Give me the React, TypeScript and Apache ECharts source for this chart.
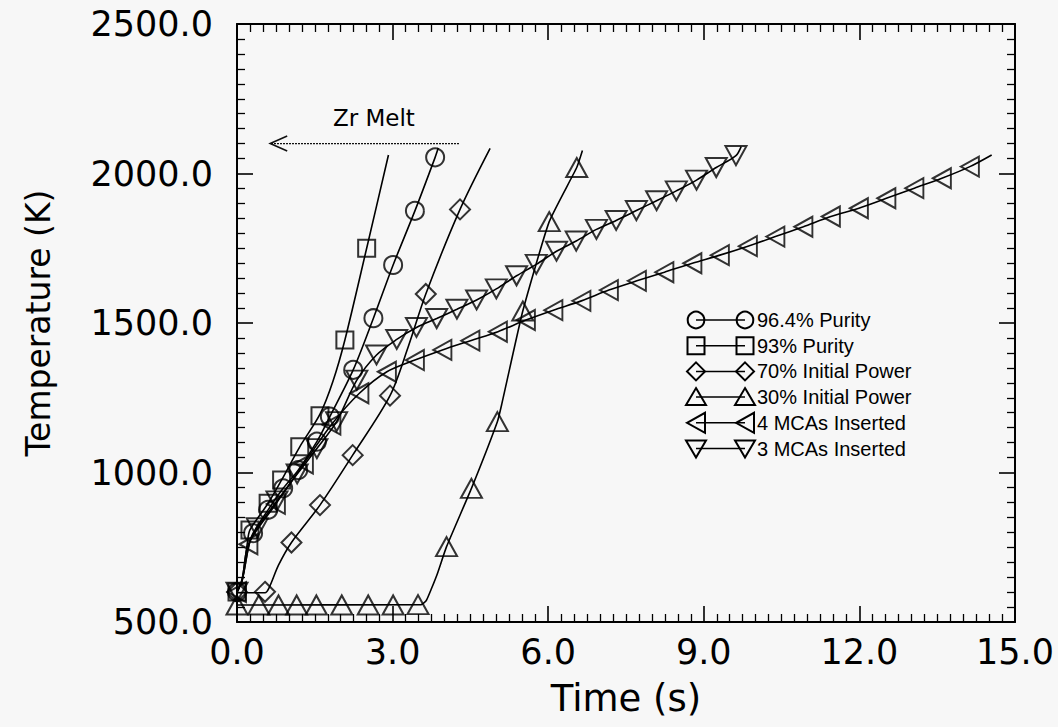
import React, { useEffect, useRef } from "react";
import * as echarts from "echarts";

type P = [number, number];

// ---- Data (time s, temperature K) ----
const purity964Markers: P[] = [[0, 600], [0.31, 797], [0.6, 875], [0.89, 947], [1.18, 1008], [1.54, 1103], [1.79, 1187], [2.24, 1343], [2.63, 1516], [3.01, 1694], [3.43, 1875], [3.82, 2054]];
const purity964Line: P[] = [[0, 600], [0.1, 640], [0.22, 750], [0.31, 797], [0.6, 875], [0.89, 947], [1.18, 1008], [1.54, 1103], [1.79, 1187], [2.24, 1343], [2.63, 1516], [3.01, 1694], [3.43, 1875], [3.82, 2054], [3.88, 2085]];

const purity93Markers: P[] = [[0, 600], [0.25, 808], [0.6, 897], [0.86, 975], [1.21, 1086], [1.6, 1190], [2.08, 1443], [2.5, 1750]];
const purity93Line: P[] = [[0, 600], [0.1, 645], [0.2, 765], [0.25, 808], [0.6, 897], [0.86, 975], [1.21, 1086], [1.6, 1195], [1.85, 1305], [2.08, 1443], [2.5, 1750], [2.92, 2062]];

const power70Markers: P[] = [[0, 600], [0.54, 601], [1.05, 766], [1.6, 891], [2.23, 1058], [2.95, 1257], [3.64, 1597], [4.3, 1880]];
const power70Line: P[] = [[0, 598], [0.54, 598], [0.62, 615], [0.8, 690], [1.05, 766], [1.6, 891], [2.23, 1058], [2.95, 1257], [3.3, 1420], [3.64, 1597], [4.3, 1880], [4.88, 2084]];

const power30Markers: P[] = [[0, 557], [0.42, 557], [0.8, 557], [1.15, 557], [1.53, 557], [2.02, 557], [2.53, 557], [3.01, 557], [3.49, 558], [4.04, 752], [4.52, 947], [5.02, 1170], [5.51, 1540], [6.02, 1839], [6.55, 2020]];
const power30Line: P[] = [[0, 557], [3.55, 558], [3.65, 572], [3.75, 612], [3.87, 665], [4.04, 752], [4.52, 947], [5.02, 1170], [5.1, 1225], [5.51, 1540], [6.02, 1839], [6.55, 2020], [6.66, 2077]];

const mca4Markers: P[] = [[0, 600], [0.22, 760], [0.75, 895], [1.29, 1030], [1.82, 1160], [2.36, 1265], [2.89, 1337], [3.43, 1376], [3.96, 1410], [4.5, 1441], [5.03, 1471], [5.57, 1510], [6.1, 1543], [6.64, 1574], [7.17, 1610], [7.71, 1641], [8.24, 1670], [8.78, 1700], [9.31, 1727], [9.85, 1757], [10.38, 1789], [10.92, 1822], [11.45, 1856], [11.99, 1884], [12.52, 1917], [13.06, 1951], [13.59, 1984], [14.13, 2023]];
const mca4Line: P[] = [[0, 600], [0.1, 640], [0.22, 760], [0.75, 895], [1.29, 1030], [1.82, 1160], [2.36, 1265], [2.89, 1337], [3.43, 1376], [3.96, 1410], [4.5, 1441], [5.03, 1471], [5.57, 1510], [6.1, 1543], [6.64, 1574], [7.17, 1610], [7.71, 1641], [8.24, 1670], [8.78, 1700], [9.31, 1727], [9.85, 1757], [10.38, 1789], [10.92, 1822], [11.45, 1856], [11.99, 1884], [12.52, 1917], [13.06, 1951], [13.59, 1984], [14.13, 2023], [14.55, 2062]];

const mca3Markers: P[] = [[0, 600], [0.39, 815], [0.77, 905], [1.16, 995], [1.54, 1080], [1.92, 1170], [2.31, 1309], [2.69, 1393], [3.08, 1445], [3.46, 1485], [3.85, 1515], [4.24, 1546], [4.62, 1577], [5.0, 1614], [5.39, 1658], [5.77, 1696], [6.16, 1740], [6.54, 1774], [6.93, 1813], [7.31, 1843], [7.7, 1876], [8.09, 1909], [8.47, 1942], [8.86, 1978], [9.24, 2020], [9.62, 2060]];
const mca3Line: P[] = [[0, 600], [0.1, 640], [0.25, 770], [0.39, 815], [0.77, 905], [1.16, 995], [1.54, 1080], [1.92, 1170], [2.31, 1309], [2.69, 1393], [3.08, 1445], [3.46, 1485], [3.85, 1515], [4.24, 1546], [4.62, 1577], [5.0, 1614], [5.39, 1658], [5.77, 1696], [6.16, 1740], [6.54, 1774], [6.93, 1813], [7.31, 1843], [7.7, 1876], [8.09, 1909], [8.47, 1942], [8.86, 1978], [9.24, 2020], [9.62, 2060], [9.72, 2090]];

const seriesNames = ["96.4% Purity", "93% Purity", "70% Initial Power", "30% Initial Power", "4 MCAs Inserted", "3 MCAs Inserted"];

// Zr melt annotation (data coords)
const zrArrowFrom: P = [4.28, 2100];
const zrArrowTo: P = [0.64, 2100];
const zrLabelAt: P = [2.64, 2186];
const zrLabel = "Zr Melt";

const X_MIN = 0, X_MAX = 15, X_INT = 3;
const Y_MIN = 500, Y_MAX = 2500, Y_INT = 500;

const SYM = {
  circle: "circle",
  square: "rect",
  diamond: "diamond",
  up: "path://M5,0L10,9L0,9Z",
  left: "path://M0,5L9,0L9,10Z",
  down: "path://M0,0L10,0L5,9Z",
};

export default function App() {
  const ref = useRef<HTMLDivElement>(null);
  useEffect(() => {
    document.body.style.margin = "0";
    const chart = echarts.init(ref.current!, undefined, { renderer: "svg" });
    const black = "#000";
    const tickFont = { fontSize: 35, fontFamily: "DejaVu Sans", color: black };
    const axisBase = (isX: boolean, main: boolean) => ({
      type: "value",
      min: isX ? X_MIN : Y_MIN,
      max: isX ? X_MAX : Y_MAX,
      interval: isX ? X_INT : Y_INT,
      axisLine: { show: true, onZero: false, lineStyle: { color: black, width: 2 } },
      axisTick: { show: true, inside: true, length: 16, lineStyle: { color: black, width: 1.6 } },
      minorTick: { show: true, splitNumber: isX ? 12 : 10, length: 8, lineStyle: { color: black, width: 1.3 } },
      splitLine: { show: false },
      minorSplitLine: { show: false },
      axisLabel: main
        ? { show: true, ...tickFont, margin: isX ? 12 : 24, formatter: (v: number) => v.toFixed(1) }
        : { show: false },
    });

    const lineS = (data: P[], smooth: number | boolean) => ({
      type: "line",
      data,
      showSymbol: false,
      symbol: "none",
      smooth,
      lineStyle: { color: black, width: 1.6 },
      silent: true,
      z: 2,
    });
    const markS = (name: string, data: P[], symbol: string, size: number | number[]) => ({
      type: "scatter",
      name,
      data,
      symbol,
      symbolSize: size,
      itemStyle: { color: "rgba(0,0,0,0)", borderColor: black, borderWidth: 2 },
      silent: true,
      z: 3,
    });

    chart.setOption({
      animation: false,
      backgroundColor: "#f7f7f7",
      grid: { left: 237, right: 43, top: 24, bottom: 105, containLabel: false },
      xAxis: [
        {
          ...axisBase(true, true),
          position: "bottom",
          name: "Time (s)",
          nameLocation: "middle",
          nameGap: 58,
          nameTextStyle: { fontSize: 37, fontFamily: "DejaVu Sans", color: black },
        },
        { ...axisBase(true, false), position: "top" },
      ],
      yAxis: [
        {
          ...axisBase(false, true),
          position: "left",
          name: "Temperature (K)",
          nameLocation: "middle",
          nameGap: 182,
          nameRotate: 90,
          nameTextStyle: { fontSize: 33, fontFamily: "DejaVu Sans", color: black },
        },
        { ...axisBase(false, false), position: "right" },
      ],
      series: [
        lineS(purity964Line, 0.3),
        lineS(purity93Line, 0.3),
        lineS(power70Line, 0.3),
        lineS(power30Line, 0.15),
        lineS(mca4Line, 0.3),
        lineS(mca3Line, 0.3),
        markS(seriesNames[0], purity964Markers, SYM.circle, 18),
        markS(seriesNames[1], purity93Markers, SYM.square, 17),
        markS(seriesNames[2], power70Markers, SYM.diamond, [20, 20]),
        markS(seriesNames[3], power30Markers, SYM.up, [21, 19]),
        markS(seriesNames[4], mca4Markers, SYM.left, [18, 20]),
        markS(seriesNames[5], mca3Markers, SYM.down, [21, 19]),
      ],
    });

    // annotation + legend
    const from = chart.convertToPixel({ gridIndex: 0 }, zrArrowFrom) as number[];
    const to = chart.convertToPixel({ gridIndex: 0 }, zrArrowTo) as number[];
    const lab = chart.convertToPixel({ gridIndex: 0 }, zrLabelAt) as number[];

    const stroke = { stroke: black, lineWidth: 2, fill: "none" };
    const symbolShape = (kind: string, cx: number, cy: number): any => {
      if (kind === "circle") return { type: "circle", shape: { cx, cy, r: 8.3 }, style: stroke };
      if (kind === "square") return { type: "rect", shape: { x: cx - 8.5, y: cy - 8.5, width: 17, height: 17 }, style: stroke };
      let pts: number[][] = [];
      if (kind === "diamond") pts = [[cx, cy - 9], [cx + 9, cy], [cx, cy + 9], [cx - 9, cy]];
      if (kind === "up") pts = [[cx, cy - 9], [cx + 10, cy + 8], [cx - 10, cy + 8]];
      if (kind === "down") pts = [[cx - 10, cy - 8], [cx + 10, cy - 8], [cx, cy + 9]];
      if (kind === "left") pts = [[cx - 9, cy], [cx + 9, cy - 10], [cx + 9, cy + 10]];
      return { type: "polygon", shape: { points: pts }, style: stroke };
    };
    const kinds = ["circle", "square", "diamond", "up", "left", "down"];
    const legendEls: any[] = [];
    kinds.forEach((k, i) => {
      const y = 320 + i * 25.7;
      legendEls.push({ type: "line", shape: { x1: 696, y1: y, x2: 745, y2: y }, style: { stroke: black, lineWidth: 1.5 } });
      legendEls.push(symbolShape(k, 696, y));
      legendEls.push(symbolShape(k, 745, y));
      legendEls.push({
        type: "text",
        x: 757,
        y,
        style: { text: seriesNames[i], fill: black, font: "20px 'Liberation Sans', Arial, sans-serif", textAlign: "left", textVerticalAlign: "middle" },
      });
    });

    const tipX = to[0], tipY = to[1];
    chart.setOption({
      graphic: [
        ...legendEls,
        { type: "line", shape: { x1: from[0], y1: from[1], x2: to[0], y2: to[1] }, style: { stroke: "#111", lineWidth: 1.3, lineDash: [2, 1] } },
        { type: "polyline", shape: { points: [[tipX + 17, tipY - 7.5], [tipX, tipY], [tipX + 17, tipY + 7.5]] }, style: { stroke: "#111", lineWidth: 1.6, fill: "none" } },
        {
          type: "text",
          x: lab[0],
          y: lab[1],
          style: { text: zrLabel, fill: black, font: "23px 'DejaVu Sans', sans-serif", textAlign: "center", textVerticalAlign: "middle" },
        },
      ],
    });

    return () => chart.dispose();
  }, []);
  return <div ref={ref} style={{ width: 1058, height: 727 }} />;
}
